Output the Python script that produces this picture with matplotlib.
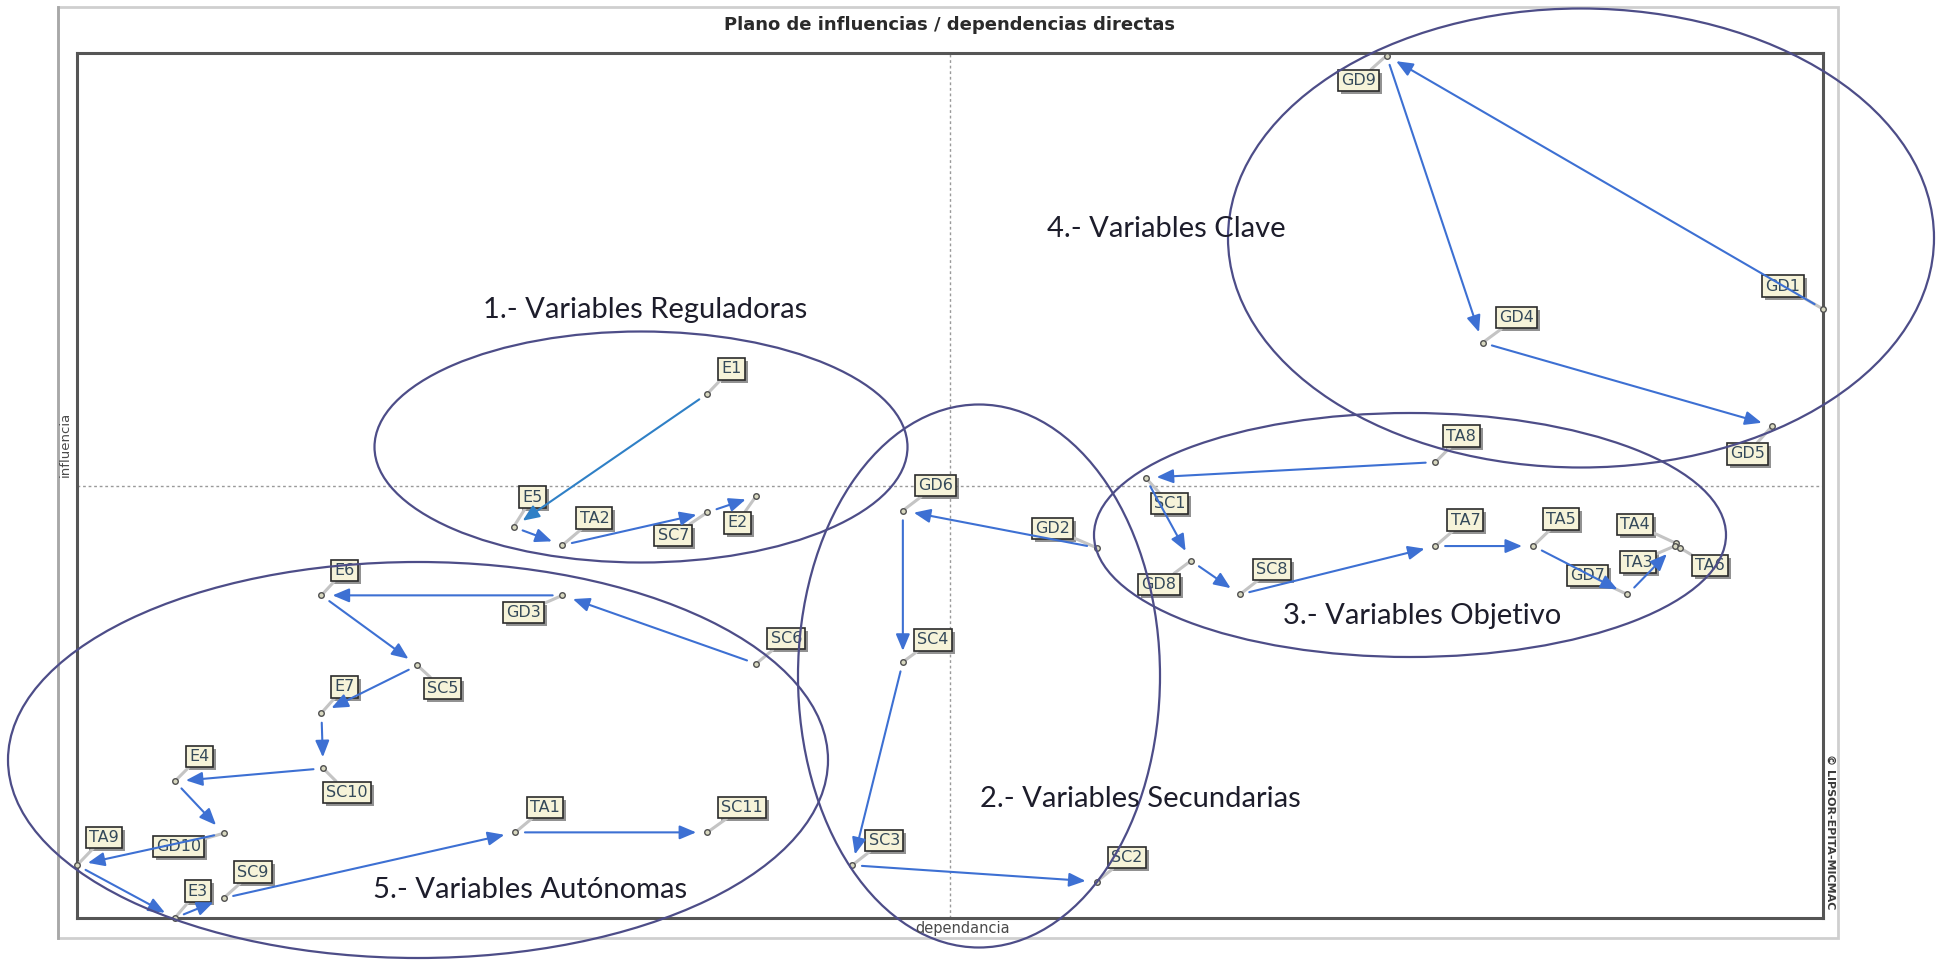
import matplotlib
matplotlib.use('Agg')
import matplotlib.pyplot as plt
from matplotlib.patches import Ellipse, Rectangle
from matplotlib.lines import Line2D

# ---------------- data ----------------
variables = ['E1', 'E5', 'TA2', 'SC7', 'E2',
             'GD6', 'GD2', 'SC4', 'SC3', 'SC2',
             'TA8', 'SC1', 'GD8', 'SC8', 'TA7', 'TA5', 'GD7', 'TA4', 'TA3', 'TA6',
             'GD9', 'GD1', 'GD4', 'GD5',
             'SC6', 'GD3', 'E6', 'SC5', 'E7', 'SC10', 'E4', 'GD10', 'TA9', 'E3', 'SC9', 'TA1', 'SC11']
dependencia = [36.1, 25.0, 27.8, 36.1, 38.9,
               47.3, 58.4, 47.3, 44.4, 58.4,
               77.8, 61.2, 63.8, 66.6, 77.8, 83.4, 88.8, 91.6, 91.5, 91.8,
               75.0, 100.0, 80.5, 97.1,
               38.9, 27.8, 14.0, 19.5, 14.0, 14.1, 5.6, 8.4, 0.0, 5.6, 8.4, 25.1, 36.1]
influencia = [60.6, 45.2, 43.1, 46.9, 48.8,
              47.1, 42.8, 29.6, 6.1, 4.2,
              52.7, 50.9, 41.3, 37.4, 43.0, 43.0, 37.4, 43.3, 43.0, 42.8,
              99.7, 70.4, 66.5, 56.9,
              29.4, 37.3, 37.3, 29.2, 23.7, 17.3, 15.8, 9.8, 6.1, 0.0, 2.3, 9.9, 9.9]

relaciones = [('E1', 'E5'), ('E5', 'TA2'), ('TA2', 'SC7'), ('SC7', 'E2'),
              ('GD2', 'GD6'), ('GD6', 'SC4'), ('SC4', 'SC3'), ('SC3', 'SC2'),
              ('TA8', 'SC1'), ('SC1', 'GD8'), ('GD8', 'SC8'), ('SC8', 'TA7'),
              ('TA7', 'TA5'), ('TA5', 'GD7'), ('GD7', 'TA3'),
              ('GD1', 'GD9'), ('GD9', 'GD4'), ('GD4', 'GD5'),
              ('SC6', 'GD3'), ('GD3', 'E6'), ('E6', 'SC5'), ('SC5', 'E7'),
              ('E7', 'SC10'), ('SC10', 'E4'), ('E4', 'GD10'), ('GD10', 'TA9'),
              ('TA9', 'E3'), ('E3', 'SC9'), ('SC9', 'TA1'), ('TA1', 'SC11')]

grupos = ['1.- Variables Reguladoras', '2.- Variables Secundarias', '3.- Variables Objetivo',
          '4.- Variables Clave', '5.- Variables Autónomas']

titulo = 'Plano de influencias / dependencias directas'

# ---------------- layout / style ----------------
W, H = 1943, 966
# label offsets in screen pixels (dx right, dy down)
label_off = {'E1': (24, -25), 'E5': (19, -30), 'TA2': (32, -27), 'SC7': (-34, 23), 'E2': (-19, 27),
             'GD6': (33, -25), 'GD2': (-44, -19), 'SC4': (30, -22), 'SC3': (32, -25), 'SC2': (30, -24),
             'TA8': (26, -26), 'SC1': (24, 26), 'GD8': (-32, 24), 'SC8': (32, -25), 'TA7': (30, -26),
             'TA5': (28, -27), 'GD7': (-40, -19), 'TA4': (-41, -19), 'TA3': (-37, 16), 'TA6': (30, 18),
             'GD9': (-28, 25), 'GD1': (-40, -23), 'GD4': (34, -25), 'GD5': (-25, 28),
             'SC6': (30, -25), 'GD3': (-39, 17), 'E6': (23, -25), 'SC5': (25, 23), 'E7': (23, -26),
             'SC10': (24, 24), 'E4': (25, -25), 'GD10': (-45, 13), 'TA9': (27, -28), 'E3': (23, -27),
             'SC9': (29, -26), 'TA1': (30, -25), 'SC11': (35, -25)}

# ellipses (center x, center y, width, height) in figure pixels, group label positions
ellipses = [(641, 447, 533, 231), (979, 676, 362, 543), (1410, 535, 632, 244),
            (1581, 238, 706, 459), (418, 760, 820, 396)]
group_pos = [(645, 310), (1140, 799), (1422, 616), (1166, 229), (530, 890)]

fig = plt.figure(figsize=(W / 100, H / 100), dpi=100)
fig.patch.set_facecolor('white')

# overlay for frame / ellipses / annotations (pixel coords, y down)
ov = fig.add_axes([0, 0, 1, 1], zorder=5)
ov.set_xlim(0, W)
ov.set_ylim(H, 0)
ov.axis('off')
ov.patch.set_alpha(0)

# outer frame
ov.add_patch(Rectangle((58, 7), 1838 - 58, 938 - 7, fill=False, ec='#cfcfcf', lw=2.0, zorder=1))
ov.add_line(Line2D([58, 58], [7, 938], color='#a8a8a8', lw=2.0, zorder=1))

# main axes
left, right, top, bottom = 77, 1823, 53, 918
ax = fig.add_axes([left / W, (H - bottom) / H, (right - left) / W, (bottom - top) / H], zorder=3)
ax.set_xlim(0, 100)
ax.set_ylim(0, 100)
ax.set_xticks([])
ax.set_yticks([])
for s in ax.spines.values():
    s.set_color('#555555')
    s.set_linewidth(2.2)

ax.axvline(50, color='#9a9a9a', lw=1.0, ls=(0, (2, 2)), zorder=1)
ax.axhline(50, color='#9a9a9a', lw=1.0, ls=(0, (2, 2)), zorder=1)

pos = {v: (x, y) for v, x, y in zip(variables, dependencia, influencia)}

# labels with shadow and leader line
for v in variables:
    dx, dy = label_off[v]
    x, y = pos[v]
    ax.annotate(v, xy=(x, y), xytext=(dx + 3, -dy - 3), textcoords='offset pixels',
                ha='center', va='center', fontsize=11.5, color='none',
                bbox=dict(boxstyle='square,pad=0.2', fc='#6e6e6e', ec='none', alpha=0.75),
                zorder=3, annotation_clip=False)
    ax.annotate(v, xy=(x, y), xytext=(dx, -dy), textcoords='offset pixels',
                ha='center', va='center', fontsize=11.5, color='#34495a',
                bbox=dict(boxstyle='square,pad=0.2', fc='#f6f3d9', ec='#2b2b2b', lw=1.2),
                arrowprops=dict(arrowstyle='-', color='#c4c4c4', lw=2.2, shrinkA=0, shrinkB=2),
                zorder=4, annotation_clip=False)

# points
ax.scatter(dependencia, influencia, s=16, facecolor='#d8d8c0', edgecolor='#505050',
           linewidth=1.0, zorder=6, clip_on=False)

# arrows
for a, b in relaciones:
    col = '#2f80c6' if a == 'E1' else '#3d70d3'
    ax.annotate('', xy=pos[b], xytext=pos[a],
                arrowprops=dict(arrowstyle='-|>,head_length=1.0,head_width=0.42',
                                color=col, lw=1.5, shrinkA=7, shrinkB=8),
                zorder=5, annotation_clip=False)

# ellipses and group names
for (cx, cy, w, h) in ellipses:
    ov.add_patch(Ellipse((cx, cy), w, h, fill=False, ec='#4d4d88', lw=1.6, zorder=6))
for name, (gx, gy) in zip(grupos, group_pos):
    ov.text(gx, gy, name, ha='center', va='center', fontsize=21, family='Lato',
            color='#1d1d2b', zorder=7)

# title and axis texts
ov.text(949, 25, titulo, ha='center', va='center', fontsize=13, fontweight='bold',
        color='#2a2a2a', zorder=7)
ov.text(65, 444, 'influencia', rotation=90, ha='center', va='center', fontsize=9.5,
        color='#4a4a4a', zorder=7)
ov.text(963, 928, 'dependancia', ha='center', va='center', fontsize=10.5,
        color='#4a4a4a', zorder=7)
ov.text(1830, 832, '© LIPSOR-EPITA-MICMAC', rotation=-90, ha='center', va='center',
        fontsize=8, fontweight='bold', color='#3a3a3a', zorder=7)

fig.savefig('out.png', dpi=100, facecolor='white')
